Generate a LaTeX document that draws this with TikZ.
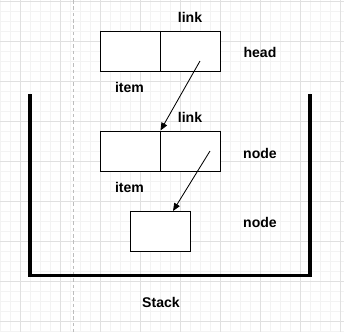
\documentclass[tikz,border=0pt]{standalone}
\usepackage{fontspec}
\setmainfont{Liberation Sans}
\usetikzlibrary{arrows.meta,positioning}
\definecolor{ink}{HTML}{000000}
\definecolor{gridmajor}{HTML}{E0E0E0}
\definecolor{gridminor}{HTML}{F3F3F3}
\definecolor{guide}{HTML}{BDBDBD}

\begin{document}
\begin{tikzpicture}[
  x=0.025cm, y=-0.025cm,
  font=\fontsize{10}{12}\selectfont\bfseries,
  text=ink,
  minorline/.style={draw=gridminor, line width=0.5pt},
  majorline/.style={draw=gridmajor, line width=0.6pt},
  guideline/.style={draw=guide, line width=0.5pt, dash pattern=on 2.5pt off 2pt},
  cell/.style={
    draw=ink,
    line width=0.7pt,
    fill=white,
    minimum width=1.5cm,
    minimum height=1cm,
    inner sep=0pt
  },
  wall/.style={draw=ink, line width=2.6pt, line join=miter},
  arrow/.style={-{Triangle[length=5.5pt,width=4.5pt]}, line width=0.6pt, draw=ink},
  label/.style={inner sep=1pt}
]

\useasboundingbox (0,0) rectangle (344,332);

% background grid
\foreach \gx in {0,10,...,340} \draw[minorline] (\gx,0) -- (\gx,332);
\foreach \gy in {1.7,11.7,...,331.7} \draw[minorline] (0,\gy) -- (344,\gy);
\foreach \gx in {20,60,...,340} \draw[majorline] (\gx,0) -- (\gx,332);
\foreach \gy in {1.7,41.7,...,321.7} \draw[majorline] (0,\gy) -- (344,\gy);
\draw[guideline] (73.5,0) -- (73.5,332);

% stack container
\draw[wall] (30,94) -- (30,275.5) -- (310,275.5) -- (310,94);

% head node
\node[cell] (headitem) at (130,51.2) {};
\node[cell] (headlink) at (190,51.2) {};
% next node
\node[cell] (nextitem) at (130,151) {};
\node[cell] (nextlink) at (190,151) {};
% last node
\node[cell] (lastnode) at (160,231) {};

\node[label] (headlinktext) at (190,17) {link};
\node[label] (headtext) at (260,52) {head};
\node[label] (headitemtext) at (129.5,87) {item};
\node[label] (nextlinktext) at (190,117) {link};
\node[label] (nexttext) at (260,153) {node};
\node[label] (nextitemtext) at (129.5,187) {item};
\node[label] (lasttext) at (260,222) {node};
\node[label] (stacktext) at (161,302) {Stack};

\coordinate (headptr) at (200,61);
\coordinate (nextptr) at (210,151);
\coordinate (lasttop) at (173,211);

\draw[arrow] (headptr) -- (nextitem.north east);
\draw[arrow] (nextptr) -- (lasttop);

\end{tikzpicture}
\end{document}
